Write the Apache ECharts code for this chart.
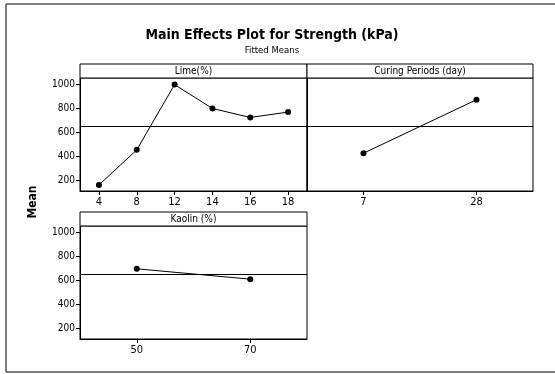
<!DOCTYPE html>
<html>
<head>
<meta charset="utf-8">
<script src="https://cdn.jsdelivr.net/npm/echarts@6/dist/echarts.min.js"></script>
<style>
html,body{margin:0;padding:0;background:#fff;overflow:hidden;}
#chart{width:555px;height:374px;}
</style>
</head>
<body>
<div id="chart"></div>
<script>
// ---- data ----
const limeCategories = ['4', '8', '12', '14', '16', '18'];
const limeMeans = [158, 451, 995, 796, 721, 766];
const curingCategories = ['7', '28'];
const curingMeans = [423, 869];
const kaolinCategories = ['50', '70'];
const kaolinMeans = [693, 607];
const grandMean = 650;
const yTickValues = [200, 400, 600, 800, 1000];
const panelTitles = ['Lime(%)', 'Curing Periods (day)', 'Kaolin (%)'];

// ---- layout ----
const FONT = 'DejaVu Sans Condensed';
const Y_MIN = 108, Y_MAX = 1050;
const STRIP_H = 14;
const grids = [
  {left: 80, top: 78, width: 227, height: 113},
  {left: 307, top: 78, width: 226, height: 113},
  {left: 80, top: 226, width: 227, height: 113}
];
const cats = [limeCategories, curingCategories, kaolinCategories];
const vals = [limeMeans, curingMeans, kaolinMeans];

const chart = echarts.init(document.getElementById('chart'));

const xAxes = grids.map((g, i) => ({
  type: 'category',
  gridIndex: i,
  data: cats[i],
  boundaryGap: true,
  axisLine: {show: true, lineStyle: {color: '#000', width: 1}},
  axisTick: {show: true, alignWithLabel: true, length: 4, lineStyle: {color: '#000'}},
  axisLabel: {color: '#000', fontFamily: FONT, fontSize: 11, margin: 6},
  splitLine: {show: false}
}));

const yAxes = grids.map((g, i) => ({
  type: 'value',
  gridIndex: i,
  min: Y_MIN,
  max: Y_MAX,
  axisLine: {show: true, lineStyle: {color: '#000', width: 1}},
  axisTick: {show: i !== 1, length: 4, lineStyle: {color: '#000'}, customValues: yTickValues},
  axisLabel: {show: i !== 1, color: '#000', fontFamily: FONT, fontSize: 10, margin: 5,
    customValues: yTickValues, formatter: v => String(v)},
  splitLine: {show: false}
}));

const series = grids.map((g, i) => ({
  type: 'line',
  xAxisIndex: i,
  yAxisIndex: i,
  data: vals[i],
  symbol: 'circle',
  symbolSize: 6,
  lineStyle: {color: '#000', width: 1},
  itemStyle: {color: '#000'},
  markLine: {
    silent: true,
    symbol: 'none',
    label: {show: false},
    lineStyle: {color: '#000', type: 'solid', width: 1},
    data: [{yAxis: grandMean}]
  }
}));

const frame = {stroke: '#555', lineWidth: 1.5};
const graphics = [
  {type: 'line', shape: {x1: 6, y1: 4, x2: 555, y2: 4}, style: frame},
  {type: 'line', shape: {x1: 6, y1: 4, x2: 6, y2: 372}, style: frame},
  {type: 'line', shape: {x1: 6, y1: 372, x2: 555, y2: 372}, style: frame}
];
grids.forEach((g, i) => {
  graphics.push({
    type: 'rect',
    shape: {x: g.left, y: g.top - STRIP_H, width: g.width, height: STRIP_H},
    style: {fill: '#fff', stroke: '#000', lineWidth: 1}, z: 10
  });
  graphics.push({
    type: 'text',
    x: g.left + g.width / 2,
    y: g.top - STRIP_H / 2,
    style: {text: panelTitles[i], fill: '#000', font: '10px "' + FONT + '"', textAlign: 'center', textVerticalAlign: 'middle'},
    z: 11
  });
});
graphics.push({
  type: 'text',
  x: 33, y: 202, rotation: Math.PI / 2,
  style: {text: 'Mean', fill: '#000', font: 'bold 12px "' + FONT + '"', textAlign: 'center', textVerticalAlign: 'middle'},
  z: 11
});

chart.setOption({
  animation: false,
  backgroundColor: '#fff',
  title: {
    text: 'Main Effects Plot for Strength (kPa)',
    subtext: 'Fitted Means',
    left: 267, top: 23, textAlign: 'center',
    itemGap: 4,
    textStyle: {fontFamily: FONT, fontWeight: 'bold', fontSize: 14, color: '#000'},
    subtextStyle: {fontFamily: FONT, fontSize: 9.5, color: '#000'}
  },
  grid: grids.map(g => Object.assign({show: true, borderColor: '#000', borderWidth: 1, backgroundColor: 'transparent'}, g)),
  xAxis: xAxes,
  yAxis: yAxes,
  series: series,
  graphic: graphics
});
</script>
</body>
</html>
